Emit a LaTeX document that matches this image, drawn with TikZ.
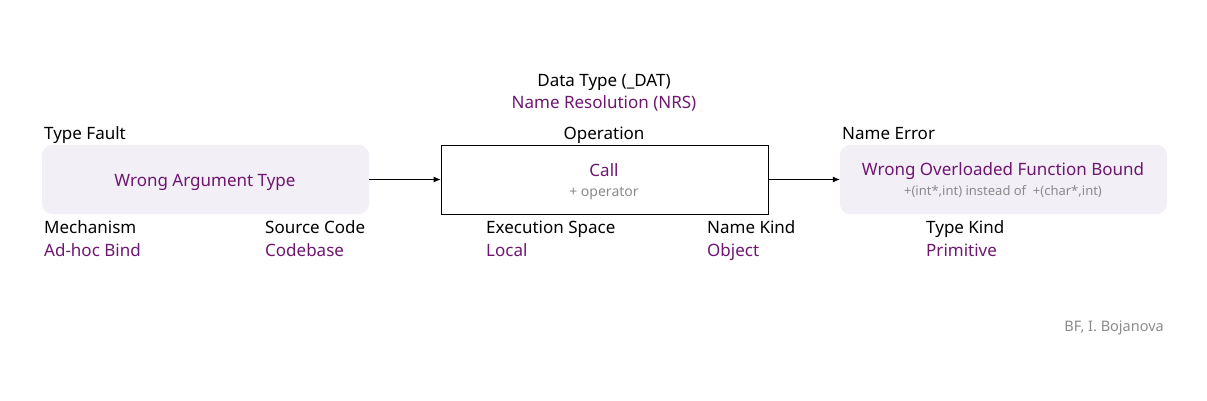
\documentclass[tikz,border=0pt]{standalone}
\usepackage{fontspec}
\setmainfont{Noto Sans}
\usetikzlibrary{arrows.meta}
\definecolor{purp}{HTML}{6E1670}
\definecolor{lav}{HTML}{F2EFF7}
\definecolor{gr}{HTML}{8A8A8A}
\tikzset{
  lbl/.style={anchor=base west, inner sep=0pt, font=\fontsize{17}{20}\selectfont},
  val/.style={lbl, text=purp},
  ctr/.style={anchor=base, inner sep=0pt, font=\fontsize{17}{20}\selectfont},
  sub/.style={anchor=base, inner sep=0pt, text=gr, font=\fontsize{14}{16}\selectfont},
  softbox/.style={draw=none, fill=lav, rounded corners=10pt, minimum width=327pt, minimum height=69pt, inner sep=0pt},
  hardbox/.style={draw=black, fill=white, line width=0.8pt, minimum width=327pt, minimum height=69pt, inner sep=0pt},
  conn/.style={-{Latex[length=7pt,width=6pt]}, line width=0.8pt}
}
\begin{document}
\begin{tikzpicture}[x=1pt,y=-1pt]
\useasboundingbox (0,0) rectangle (1207,400);
\node[softbox] (fault) at (205.5,179.5) {};
\node[hardbox] (op) at (604.5,179.5) {};
\node[softbox] (err) at (1003.5,179.5) {};
\node[ctr, text=purp] (faultt) at (205,186) {Wrong Argument Type};
\node[ctr, text=purp] (opt) at (604,176) {Call};
\node[sub] (ops) at (604,196) {+ operator};
\node[ctr, text=purp] (errt) at (1003,175) {Wrong Overloaded Function Bound};
\node[sub, font=\fontsize{13}{15}\selectfont] (errs) at (1003,195) {+(int*,int) instead of~~+(char*,int)};
\node[ctr] (dat) at (604,86) {Data Type (\_DAT)};
\node[ctr, text=purp] (nrs) at (604,108) {Name Resolution (NRS)};
\node[ctr] (opl) at (604,139) {Operation};
\node[lbl] (tf) at (44,139) {Type Fault};
\node[lbl] (ne) at (842,139) {Name Error};
\node[lbl] (mech) at (44,233) {Mechanism};
\node[val] (mechv) at (44,256) {Ad-hoc Bind};
\node[lbl] (src) at (265,233) {Source Code};
\node[val] (srcv) at (265,256) {Codebase};
\node[lbl] (es) at (486,233) {Execution Space};
\node[val] (esv) at (486,256) {Local};
\node[lbl] (nk) at (707,233) {Name Kind};
\node[val] (nkv) at (707,256) {Object};
\node[lbl] (tk) at (926,233) {Type Kind};
\node[val] (tkv) at (926,256) {Primitive};
\node[anchor=base east, inner sep=0pt, text=gr, font=\fontsize{14.5}{16}\selectfont] (auth) at (1164,331) {BF, I. Bojanova};
\draw[conn] (fault.east) -- (op.west);
\draw[conn] (op.east) -- (err.west);
\end{tikzpicture}
\end{document}
